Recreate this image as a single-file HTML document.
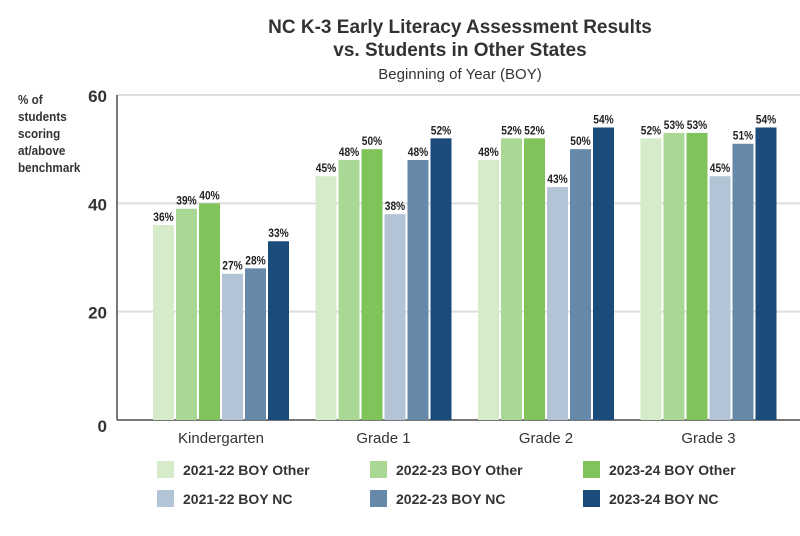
<!DOCTYPE html>
<html><head><meta charset="utf-8"><style>
body{margin:0;background:#fff;font-family:"Liberation Sans",sans-serif;}
svg text{font-family:"Liberation Sans",sans-serif;}
</style></head><body>
<svg width="800" height="531" id="c">
<text x="460" y="33" text-anchor="middle" font-size="19" font-weight="bold" fill="#333">NC K-3 Early Literacy Assessment Results</text>
<text x="460" y="56" text-anchor="middle" font-size="19" font-weight="bold" fill="#333">vs. Students in Other States</text>
<text x="460" y="79" text-anchor="middle" font-size="15" fill="#333">Beginning of Year (BOY)</text>
<text font-size="13" font-weight="bold" fill="#333" transform="scale(0.9,1)">
<tspan x="20" y="104">% of</tspan><tspan x="20" y="121">students</tspan><tspan x="20" y="138">scoring</tspan><tspan x="20" y="155">at/above</tspan><tspan x="20" y="172">benchmark</tspan></text>
<g id="grid"></g><g id="bars"></g><g id="legend"></g>
</svg>
<script>
const categories=["Kindergarten","Grade 1","Grade 2","Grade 3"];
const seriesNames=["2021-22 BOY Other","2022-23 BOY Other","2023-24 BOY Other","2021-22 BOY NC","2022-23 BOY NC","2023-24 BOY NC"];
const other2122=[36,45,48,52];
const other2223=[39,48,52,53];
const other2324=[40,50,52,53];
const nc2122=[27,38,43,45];
const nc2223=[28,48,50,51];
const nc2324=[33,52,54,54];
const yTicks=[0,20,40,60];
const series=[other2122,other2223,other2324,nc2122,nc2223,nc2324];
const colors=["#d5ebca","#a8d894","#80c35b","#b2c4d6","#6689aa","#1b4b7a"];
const NS="http://www.w3.org/2000/svg";
const yTop=95,yBot=420,yMax=60,left=117,right=800;
const y=v=>yBot-(v/yMax)*(yBot-yTop);
const xc=i=>221+i*162.5;
const bw=21,step=23;
function mk(t,a,p){const e=document.createElementNS(NS,t);for(const k in a)e.setAttribute(k,a[k]);p.appendChild(e);return e;}
const g=document.getElementById('grid');
yTicks.forEach(t=>{
 if(t>0){const l=mk('line',{x1:left,x2:right,y1:y(t),y2:y(t),stroke:'#ddd','stroke-width':2},g);
 
 }
 const tx=mk('text',{x:107,y:y(t)+(t===0?12:7),'text-anchor':'end','font-size':17,'font-weight':'bold',fill:'#333'},g);
 tx.textContent=t;
 
 
});
const ax=mk('line',{x1:left,x2:left,y1:yTop,y2:yBot,stroke:'#777','stroke-width':2},g);


const bx=mk('line',{x1:left,x2:right,y1:yBot,y2:yBot,stroke:'#777','stroke-width':2},g);


const b=document.getElementById('bars');
categories.forEach((c,i)=>{
 const lab=mk('text',{x:xc(i),y:443,'text-anchor':'middle','font-size':15,fill:'#333'},b);
 lab.textContent=c;
 
 
 series.forEach((s,j)=>{
  const x0=xc(i)-3*step+j*step+1;
  const r=mk('rect',{x:x0,y:y(s[i]),width:bw,height:yBot-y(s[i]),fill:colors[j]},b);
  
  
  const t=mk('text',{x:x0+bw/2,y:y(s[i])-4,'text-anchor':'middle','font-size':12,'font-weight':'bold',fill:'#222',transform:`translate(${x0+bw/2},0) scale(0.85,1) translate(${-(x0+bw/2)},0)`},b);
  t.textContent=s[i]+'%';
  
  
 });
});
const lg=document.getElementById('legend');
seriesNames.forEach((n,j)=>{
 const col=j%3,row=Math.floor(j/3);
 const lx=157+col*213,ly=461+row*29;
 const r=mk('rect',{x:lx,y:ly,width:17,height:17,fill:colors[j]},lg);
 
 
 const t=mk('text',{x:lx+26,y:ly+14,'font-size':14,'font-weight':'bold',fill:'#333'},lg);
 t.textContent=n;
 
 
});
</script>
</body></html>
